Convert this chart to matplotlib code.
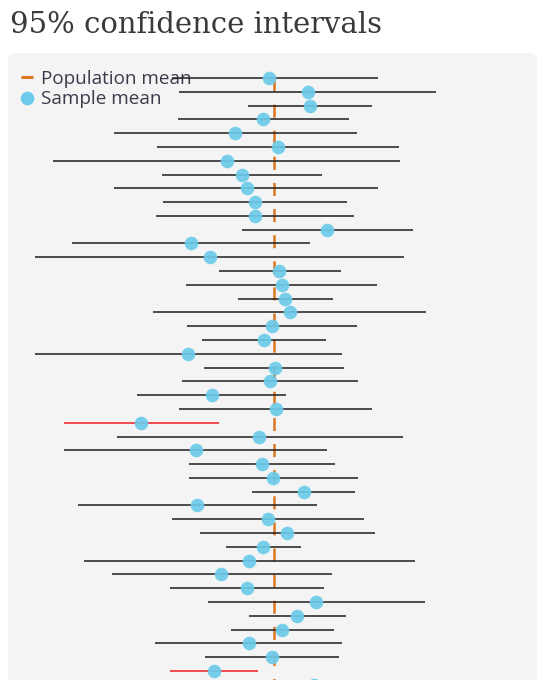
import matplotlib
matplotlib.use("Agg")
import matplotlib.pyplot as plt
from matplotlib.patches import FancyBboxPatch
from matplotlib.lines import Line2D
from matplotlib.transforms import IdentityTransform

# ---- data (sample intervals, top to bottom) ----
population_mean = 27.38
ci_low = [17.24, 17.94, 24.83, 17.83, 11.36, 15.66, 5.31, 16.15, 11.43, 16.33,
          15.59, 24.23, 7.24, 3.46, 21.89, 18.60, 23.81, 15.28, 18.71, 20.24,
          3.46, 20.42, 18.18, 13.74, 17.87, 6.36, 11.71, 6.40, 18.88, 18.88,
          25.24, 7.76, 17.24, 19.97, 22.59, 8.43, 11.15, 16.96, 20.77, 24.90,
          23.11, 15.52, 20.52, 16.96, 25.00]
sample_mean = [26.92, 30.77, 30.98, 26.33, 23.53, 27.80, 22.66, 24.20, 24.65, 25.52,
               25.45, 32.69, 19.09, 20.98, 27.94, 28.15, 28.53, 28.95, 27.17, 26.40,
               18.78, 27.45, 26.96, 21.15, 27.55, 14.09, 25.94, 19.55, 26.19, 27.31,
               30.38, 19.72, 26.78, 28.74, 26.33, 24.93, 22.13, 24.65, 31.57, 29.72,
               28.22, 24.86, 27.20, 21.36, 31.40]
ci_high = [37.83, 43.64, 37.17, 34.86, 35.73, 39.86, 39.97, 32.20, 37.83, 34.72,
           35.38, 41.26, 30.98, 40.38, 34.09, 37.73, 33.29, 42.59, 35.66, 32.62,
           34.23, 34.44, 35.80, 28.64, 37.17, 21.92, 40.31, 32.73, 33.53, 35.80,
           35.49, 31.71, 36.36, 37.52, 30.14, 41.54, 33.15, 32.38, 42.45, 34.58,
           33.36, 34.16, 33.85, 25.77, 37.80]

title = "95% confidence intervals"
legend_labels = ["Population mean", "Sample mean"]

ORANGE = "#dc7823"
BLUE = "#6ccbea"
RED = "#f0262b"
BLACK = "#262626"
TEXT = "#3b3b4c"

plt.rcParams["lines.scale_dashes"] = False

W, H = 547, 680
fig = plt.figure(figsize=(W / 100, H / 100), dpi=100)
fig.patch.set_facecolor("white")

# panel background (pixel coordinates)
panel = FancyBboxPatch((8, -40), 529, 680 - 53 + 40,
                       boxstyle="round,pad=0,rounding_size=8",
                       transform=IdentityTransform(),
                       facecolor="#f4f4f4", edgecolor="none", zorder=-5)
fig.patches.append(panel)

# title
t = fig.text(10 / W, 1 - 33 / H, title, family="DejaVu Serif",
             fontsize=20, color="#3a3a3a", ha="left", va="baseline")
fig.canvas.draw()
bb = t.get_window_extent()
t.set_fontsize(20 * 370 / bb.width)

ax = fig.add_axes([0, 0, 1, 1])
ax.set_facecolor("none")
ax.axis("off")
ax.set_zorder(1)
n = len(sample_mean)
row_px = 13.79
top_px = 78
ax.set_xlim(0, W / 10)
ax.set_ylim((H - top_px) / row_px, -top_px / row_px)

rows = list(range(n))

# population mean line (dashed)
ax.plot([population_mean, population_mean], [0, n + 1], color=ORANGE, lw=1.8,
        dashes=(9.4, 9.4), zorder=1, solid_capstyle="butt", dash_capstyle="butt")

for i in rows:
    lo, hi = ci_low[i], ci_high[i]
    miss = not (lo <= population_mean <= hi)
    ax.plot([lo, hi], [i, i], color=RED if miss else BLACK,
            lw=1.15, zorder=2, solid_capstyle="butt")

ax.plot(sample_mean, rows, ls="none", marker="o", markersize=9.8,
        markerfacecolor=BLUE, markeredgecolor="none", alpha=0.92, zorder=3)

handles = [Line2D([], [], color=ORANGE, lw=2.2, solid_capstyle="butt"),
           Line2D([], [], ls="none", marker="o", markersize=9.8,
                  markerfacecolor=BLUE, markeredgecolor="none")]
leg = ax.legend(handles, legend_labels, loc="upper left",
                bbox_to_anchor=(21 / W, 1 - 70 / H), frameon=False,
                borderpad=0, borderaxespad=0, handlelength=0.62,
                handletextpad=0.42, labelspacing=0.13,
                prop={"family": "Open Sans", "size": 13.6})
for txt in leg.get_texts():
    txt.set_color(TEXT)
leg.set_zorder(1.5)

fig.savefig("out.png", dpi=100, facecolor="white")
